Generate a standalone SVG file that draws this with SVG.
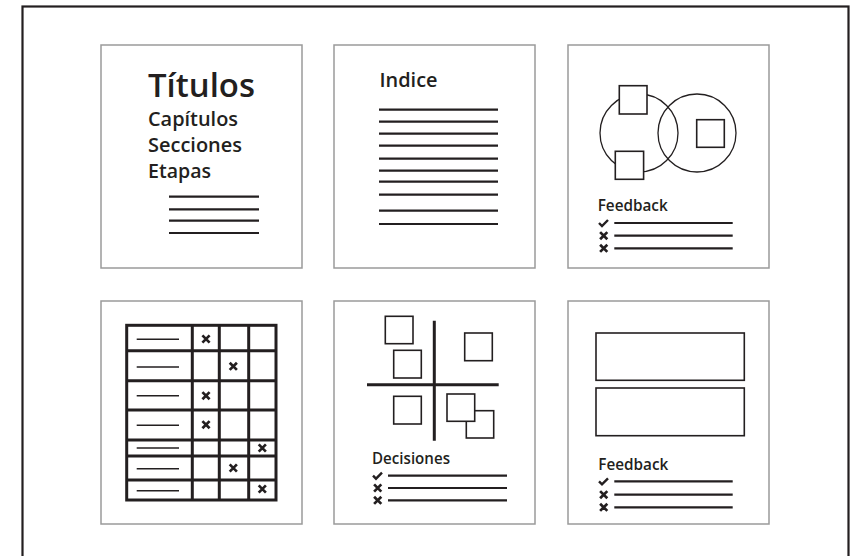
<svg xmlns="http://www.w3.org/2000/svg" width="856" height="556" viewBox="0 0 856 556">
<style>
.panel{fill:#fff;stroke:#9a9a9a;stroke-width:1.5}
.ln{stroke:#231f20;stroke-width:2.2;fill:none}
.thin{stroke:#231f20;stroke-width:1.5;fill:none}
.sq{fill:#fff;stroke:#231f20;stroke-width:1.6}
.circ{fill:none;stroke:#231f20;stroke-width:1.3}
.grid{fill:none;stroke:#231f20;stroke-width:3}
.ic{stroke:#231f20;stroke-width:2.4;fill:none;stroke-linecap:butt}
.icx{stroke:#231f20;stroke-width:2.7;fill:none;stroke-linecap:butt}
text{font-family:"Open Sans","Liberation Sans",sans-serif;fill:#231f20;font-weight:600}
</style>
<defs>
<path id="chk" class="ic" d="M-4.5,0 L-1.5,3 L4.5,-3"/>
<path id="crs" class="icx" d="M-3.6,-3.6 L3.6,3.6 M-3.6,3.6 L3.6,-3.6"/>
</defs>
<rect x="22.5" y="6.5" width="826" height="560" fill="#fff" stroke="#231f20" stroke-width="2.2"/>

<g id="panel-titulos">
<rect class="panel" x="101" y="45" width="201" height="223"/>
<text x="148" y="97" font-size="33" font-weight="700" textLength="107" lengthAdjust="spacingAndGlyphs">Títulos</text>
<text x="148" y="126" font-size="19" textLength="90" lengthAdjust="spacingAndGlyphs">Capítulos</text>
<text x="148" y="152" font-size="19" textLength="94" lengthAdjust="spacingAndGlyphs">Secciones</text>
<text x="148" y="178" font-size="19" textLength="63" lengthAdjust="spacingAndGlyphs">Etapas</text>
<path class="ln" d="M169,196.7H259M169,209.3H259M169,220.7H259M169,233H259"/>
</g>

<g id="panel-indice">
<rect class="panel" x="334" y="45" width="201" height="223"/>
<text x="379.5" y="86.7" font-size="20" textLength="58" lengthAdjust="spacingAndGlyphs">Indice</text>
<path class="ln" d="M379,109.7H498M379,121.7H498M379,133.7H498M379,145.7H498M379,158.7H498M379,170.7H498M379,181.7H498M379,194.7H498M379,210.7H498M379,224H498"/>
</g>

<g id="panel-feedback1">
<rect class="panel" x="568" y="45" width="201" height="223"/>
<circle class="circ" cx="639" cy="133" r="39"/>
<circle class="circ" cx="697" cy="133" r="39"/>
<rect class="sq" x="619.3" y="85.7" width="27.7" height="28.3"/>
<rect class="sq" x="615.3" y="151.3" width="28.3" height="28"/>
<rect class="sq" x="696.7" y="119.7" width="27.6" height="27.6"/>
<text x="597.7" y="210.7" font-size="16" textLength="70" lengthAdjust="spacingAndGlyphs">Feedback</text>
<use href="#chk" x="603.5" y="223"/>
<use href="#crs" x="603.7" y="235.7"/>
<use href="#crs" x="603.7" y="248.3"/>
<path class="ln" d="M614.3,223H732.7M614.3,235.7H732.7M614.3,248.3H732.7"/>
</g>

<g id="panel-tabla">
<rect class="panel" x="101" y="301" width="201" height="223"/>
<rect class="grid" x="126.7" y="325.3" width="149.3" height="174.7"/>
<path class="grid" d="M192.3,325.3V500M219.3,325.3V500M248.7,325.3V500M126.7,350.7H276M126.7,380.7H276M126.7,410H276M126.7,440H276M126.7,456H276M126.7,480H276"/>
<path class="thin" d="M136.7,339.3H179M136.7,367H179M136.7,395.7H179M136.7,425.3H179M136.7,448H179M136.7,468.7H179M136.7,490.7H179"/>
<use href="#crs" x="206" y="339"/>
<use href="#crs" x="233.3" y="366.3"/>
<use href="#crs" x="206" y="395.7"/>
<use href="#crs" x="206" y="424.7"/>
<use href="#crs" x="262.3" y="448"/>
<use href="#crs" x="233.3" y="468"/>
<use href="#crs" x="262.3" y="489"/>
</g>

<g id="panel-decisiones">
<rect class="panel" x="334" y="301" width="201" height="223"/>
<path class="grid" d="M434.3,320.7V440.7M367,384.7H498.7"/>
<rect class="sq" x="385.3" y="316.3" width="27.7" height="27.4"/>
<rect class="sq" x="393.7" y="350.3" width="27.6" height="27.7"/>
<rect class="sq" x="464.7" y="333" width="27.6" height="27.7"/>
<rect class="sq" x="393.7" y="396.3" width="27.6" height="27.7"/>
<rect class="sq" x="466.3" y="410.7" width="27.4" height="27.3"/>
<rect class="sq" x="447" y="394" width="27.7" height="27.3"/>
<text x="372" y="463.7" font-size="16.5" textLength="78" lengthAdjust="spacingAndGlyphs">Decisiones</text>
<use href="#chk" x="377.5" y="475.7"/>
<use href="#crs" x="377.7" y="488"/>
<use href="#crs" x="377.7" y="500.3"/>
<path class="ln" d="M388,475.7H507M388,488H507M388,500.3H507"/>
</g>

<g id="panel-feedback2">
<rect class="panel" x="568" y="301" width="201" height="223"/>
<rect class="sq" x="596" y="333" width="148.3" height="47.3"/>
<rect class="sq" x="596" y="388" width="148.3" height="47.7"/>
<text x="598.3" y="469.7" font-size="16" textLength="70" lengthAdjust="spacingAndGlyphs">Feedback</text>
<use href="#chk" x="603.5" y="481.3"/>
<use href="#crs" x="603.7" y="494.7"/>
<use href="#crs" x="603.7" y="507.3"/>
<path class="ln" d="M614.3,481.3H732.7M614.3,494.7H732.7M614.3,507.3H732.7"/>
</g>
</svg>
